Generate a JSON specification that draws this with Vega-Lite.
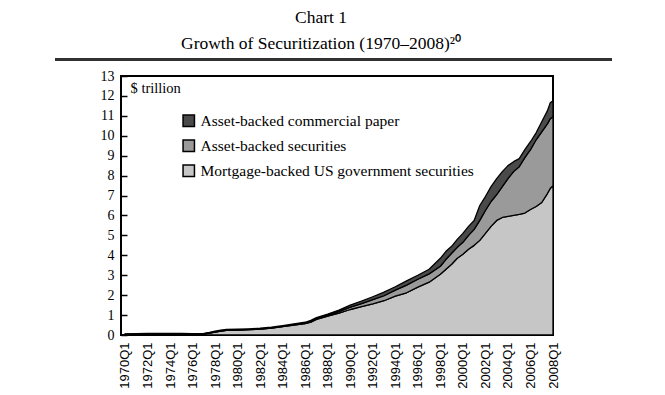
{
  "$schema": "https://vega.github.io/schema/vega-lite/v6.json",
  "autosize": {"type": "none"},
  "padding": {"left": 121, "top": 76, "right": 112, "bottom": 60},
  "width": 432,
  "height": 259,
  "background": "white",
  "config": {
    "view": {"stroke": "black", "strokeWidth": 2},
    "font": "Liberation Serif"
  },
  "title": {
    "text": ["Chart 1", "Growth of Securitization (1970–2008)²⁰"],
    "anchor": "middle",
    "frame": "group",
    "dx": -16,
    "offset": 6,
    "fontSize": 17.5,
    "fontWeight": "normal",
    "font": "Liberation Serif",
    "lineHeight": 26,
    "color": "black"
  },
  "data": {
    "values": [
      {"t": 1970.0, "mbs": 0.03, "abs": 0.0, "abcp": 0.03},
      {"t": 1971.0, "mbs": 0.04, "abs": 0.0, "abcp": 0.03},
      {"t": 1972.0, "mbs": 0.05, "abs": 0.0, "abcp": 0.03},
      {"t": 1973.0, "mbs": 0.05, "abs": 0.0, "abcp": 0.03},
      {"t": 1974.0, "mbs": 0.06, "abs": 0.0, "abcp": 0.02},
      {"t": 1975.0, "mbs": 0.06, "abs": 0.0, "abcp": 0.02},
      {"t": 1976.0, "mbs": 0.05, "abs": 0.0, "abcp": 0.02},
      {"t": 1977.0, "mbs": 0.06, "abs": 0.0, "abcp": 0.02},
      {"t": 1977.5, "mbs": 0.1, "abs": 0.0, "abcp": 0.03},
      {"t": 1978.0, "mbs": 0.15, "abs": 0.0, "abcp": 0.04},
      {"t": 1978.5, "mbs": 0.2, "abs": 0.0, "abcp": 0.04},
      {"t": 1979.0, "mbs": 0.23, "abs": 0.0, "abcp": 0.05},
      {"t": 1980.0, "mbs": 0.24, "abs": 0.0, "abcp": 0.05},
      {"t": 1981.0, "mbs": 0.27, "abs": 0.0, "abcp": 0.04},
      {"t": 1982.0, "mbs": 0.3, "abs": 0.0, "abcp": 0.04},
      {"t": 1983.0, "mbs": 0.35, "abs": 0.0, "abcp": 0.04},
      {"t": 1984.0, "mbs": 0.42, "abs": 0.01, "abcp": 0.04},
      {"t": 1985.0, "mbs": 0.5, "abs": 0.02, "abcp": 0.04},
      {"t": 1986.0, "mbs": 0.57, "abs": 0.03, "abcp": 0.04},
      {"t": 1986.5, "mbs": 0.65, "abs": 0.04, "abcp": 0.04},
      {"t": 1987.0, "mbs": 0.78, "abs": 0.04, "abcp": 0.05},
      {"t": 1988.0, "mbs": 0.95, "abs": 0.05, "abcp": 0.05},
      {"t": 1989.0, "mbs": 1.1, "abs": 0.07, "abcp": 0.08},
      {"t": 1990.0, "mbs": 1.28, "abs": 0.12, "abcp": 0.1},
      {"t": 1991.0, "mbs": 1.42, "abs": 0.15, "abcp": 0.13},
      {"t": 1992.0, "mbs": 1.56, "abs": 0.22, "abcp": 0.14},
      {"t": 1993.0, "mbs": 1.72, "abs": 0.25, "abcp": 0.18},
      {"t": 1994.0, "mbs": 1.95, "abs": 0.3, "abcp": 0.17},
      {"t": 1995.0, "mbs": 2.12, "abs": 0.38, "abcp": 0.22},
      {"t": 1996.0, "mbs": 2.4, "abs": 0.4, "abcp": 0.2},
      {"t": 1997.0, "mbs": 2.65, "abs": 0.42, "abcp": 0.23},
      {"t": 1998.0, "mbs": 3.05, "abs": 0.4, "abcp": 0.4},
      {"t": 1998.5, "mbs": 3.3, "abs": 0.5, "abcp": 0.4},
      {"t": 1999.0, "mbs": 3.55, "abs": 0.55, "abcp": 0.35},
      {"t": 1999.5, "mbs": 3.85, "abs": 0.55, "abcp": 0.4},
      {"t": 2000.0, "mbs": 4.05, "abs": 0.6, "abcp": 0.45},
      {"t": 2000.5, "mbs": 4.3, "abs": 0.7, "abcp": 0.45},
      {"t": 2001.0, "mbs": 4.5, "abs": 0.8, "abcp": 0.45},
      {"t": 2001.5, "mbs": 4.75, "abs": 1.0, "abcp": 0.75},
      {"t": 2002.0, "mbs": 5.1, "abs": 1.15, "abcp": 0.7},
      {"t": 2002.5, "mbs": 5.45, "abs": 1.25, "abcp": 0.75},
      {"t": 2003.0, "mbs": 5.75, "abs": 1.3, "abcp": 0.8},
      {"t": 2003.5, "mbs": 5.9, "abs": 1.55, "abcp": 0.75},
      {"t": 2004.0, "mbs": 5.95, "abs": 1.9, "abcp": 0.65},
      {"t": 2004.5, "mbs": 6.0, "abs": 2.2, "abcp": 0.5},
      {"t": 2005.0, "mbs": 6.05, "abs": 2.4, "abcp": 0.4},
      {"t": 2005.5, "mbs": 6.12, "abs": 2.78, "abcp": 0.4},
      {"t": 2006.0, "mbs": 6.3, "abs": 3.0, "abcp": 0.4},
      {"t": 2006.5, "mbs": 6.45, "abs": 3.35, "abcp": 0.35},
      {"t": 2007.0, "mbs": 6.65, "abs": 3.55, "abcp": 0.5},
      {"t": 2007.5, "mbs": 7.1, "abs": 3.5, "abcp": 0.65},
      {"t": 2007.75, "mbs": 7.35, "abs": 3.5, "abcp": 0.8},
      {"t": 2008.0, "mbs": 7.5, "abs": 3.45, "abcp": 0.8}
    ]
  },
  "layer": [
    {
      "transform": [{"fold": ["mbs", "abs", "abcp"], "as": ["series", "value"]}],
      "mark": {"type": "area", "stroke": "black", "strokeWidth": 1.3, "strokeJoin": "round"},
      "encoding": {
        "x": {
          "field": "t",
          "type": "quantitative",
          "scale": {"domain": [1969.65, 2008.0], "nice": false, "zero": false},
          "axis": {
            "title": null,
            "values": [1970, 1972, 1974, 1976, 1978, 1980, 1982, 1984, 1986, 1988, 1990, 1992, 1994, 1996, 1998, 2000, 2002, 2004, 2006, 2008],
            "labelExpr": "format(datum.value, 'd') + 'Q1'",
            "labelAngle": -90,
            "labelFont": "Liberation Sans",
            "labelFontSize": 13,
            "labelColor": "black",
            "labelPadding": 7,
            "ticks": false,
            "grid": false,
            "domain": false,
            "labelFlush": false,
            "labelOverlap": false
          }
        },
        "y": {
          "field": "value",
          "type": "quantitative",
          "stack": "zero",
          "scale": {"domain": [0, 13], "nice": false},
          "axis": {
            "title": "$ trillion",
            "titleAngle": 0,
            "titleAlign": "left",
            "titleBaseline": "middle",
            "titleX": 9,
            "titleY": 12,
            "titleFont": "Liberation Serif",
            "titleFontSize": 14.5,
            "titleFontWeight": "normal",
            "titleColor": "black",
            "values": [0, 1, 2, 3, 4, 5, 6, 7, 8, 9, 10, 11, 12, 13],
            "labelFont": "Liberation Serif",
            "labelFontSize": 14,
            "labelColor": "black",
            "tickSize": -6,
            "tickColor": "black",
            "tickWidth": 1.5,
            "labelPadding": 13,
            "grid": false,
            "domain": false,
            "labelFlush": false,
            "labelOverlap": false
          }
        },
        "color": {
          "field": "series",
          "type": "nominal",
          "scale": {"domain": ["abcp", "abs", "mbs"], "range": ["#4a4a4a", "#9a9a9a", "#c6c6c6"]},
          "legend": {
            "title": null,
            "orient": "none",
            "legendX": 60,
            "legendY": 37,
            "symbolType": "square",
            "symbolSize": 130,
            "symbolStrokeColor": "black",
            "symbolStrokeWidth": 1.5,
            "symbolOpacity": 1,
            "labelFont": "Liberation Serif",
            "labelFontSize": 15.5,
            "labelColor": "black",
            "labelOffset": 4,
            "rowPadding": 7,
            "labelLimit": 400,
            "labelExpr": "datum.label == 'abcp' ? 'Asset-backed commercial paper' : datum.label == 'abs' ? 'Asset-backed securities' : 'Mortgage-backed US government securities'"
          }
        },
        "order": {"field": "series", "sort": "descending"}
      }
    },
    {
      "mark": {"type": "rule", "color": "#333333", "strokeWidth": 2, "clip": false},
      "encoding": {
        "x": {
          "datum": 1963.8,
          "type": "quantitative",
          "axis": {
            "title": null,
            "values": [1970, 1972, 1974, 1976, 1978, 1980, 1982, 1984, 1986, 1988, 1990, 1992, 1994, 1996, 1998, 2000, 2002, 2004, 2006, 2008],
            "labelExpr": "format(datum.value, 'd') + 'Q1'",
            "labelAngle": -90,
            "labelFont": "Liberation Sans",
            "labelFontSize": 13,
            "labelColor": "black",
            "labelPadding": 7,
            "ticks": false,
            "grid": false,
            "domain": false,
            "labelFlush": false,
            "labelOverlap": false
          }
        },
        "x2": {"datum": 2013.2},
        "y": {
          "datum": 13.82,
          "type": "quantitative",
          "axis": {
            "title": "$ trillion",
            "titleAngle": 0,
            "titleAlign": "left",
            "titleBaseline": "middle",
            "titleX": 9,
            "titleY": 12,
            "titleFont": "Liberation Serif",
            "titleFontSize": 14.5,
            "titleFontWeight": "normal",
            "titleColor": "black",
            "values": [0, 1, 2, 3, 4, 5, 6, 7, 8, 9, 10, 11, 12, 13],
            "labelFont": "Liberation Serif",
            "labelFontSize": 14,
            "labelColor": "black",
            "tickSize": -6,
            "tickColor": "black",
            "tickWidth": 1.5,
            "labelPadding": 13,
            "grid": false,
            "domain": false,
            "labelFlush": false,
            "labelOverlap": false
          }
        }
      }
    }
  ]
}
